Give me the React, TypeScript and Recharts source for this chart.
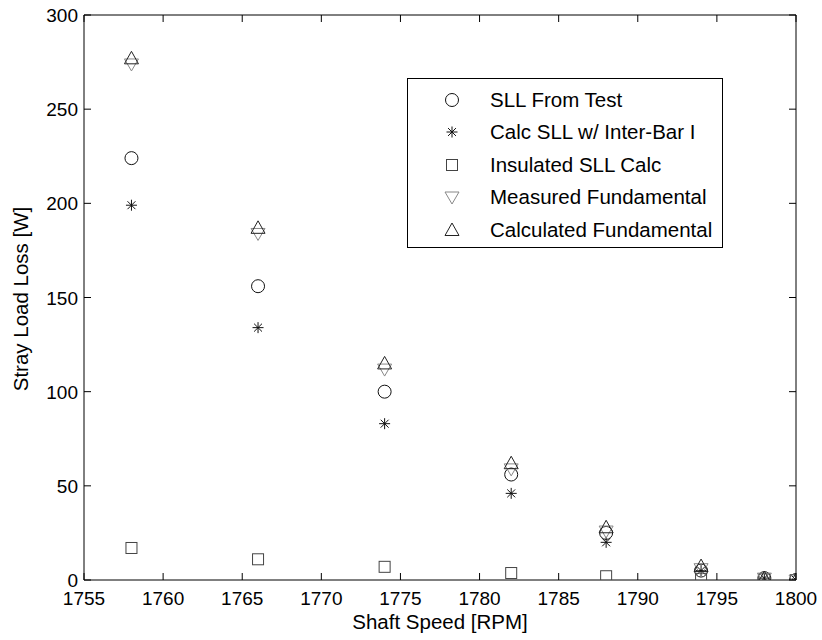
import React from 'react';
import { ScatterChart, Scatter, XAxis, YAxis } from 'recharts';

const speeds = [1758, 1766, 1774, 1782, 1788, 1794, 1798, 1800];
const sllFromTest = [224, 156, 100, 56, 25, 5, 1, 0];
const calcInterBar = [199, 134, 83, 46, 20, 5, 1, 0];
const insulatedCalc = [17, 11, 7, 3.7, 2, 0.6, 0.4, 0];
const measuredFund = [274, 184, 112, 59, 26, 6, 1, 0];
const calculatedFund = [277, 187, 115, 62, 28, 7.4, 1, 0];

const xTicks = [1755, 1760, 1765, 1770, 1775, 1780, 1785, 1790, 1795, 1800];
const yTicks = [0, 50, 100, 150, 200, 250, 300];

const seriesNames = [
  'SLL From Test',
  'Calc SLL w/ Inter-Bar I',
  'Insulated SLL Calc',
  'Measured Fundamental',
  'Calculated Fundamental',
];

const FONT = '"Liberation Sans", Arial, Helvetica, sans-serif';
const FS = 19;
const FS_LABEL = 20.5;

const toPoints = (vals: number[]) => speeds.map((s, i) => ({ x: s, y: vals[i] }));

const CircleMark = ({ cx, cy }: any) => (
  <circle cx={cx} cy={cy} r={6.5} fill="none" stroke="#111" strokeWidth={1} />
);
const StarMark = ({ cx, cy }: any) => {
  const r = 5.5;
  const d = r * 0.72;
  return (
    <g stroke="#111" strokeWidth={1}>
      <line x1={cx - r} y1={cy} x2={cx + r} y2={cy} />
      <line x1={cx} y1={cy - r} x2={cx} y2={cy + r} />
      <line x1={cx - d} y1={cy - d} x2={cx + d} y2={cy + d} />
      <line x1={cx - d} y1={cy + d} x2={cx + d} y2={cy - d} />
    </g>
  );
};
const SquareMark = ({ cx, cy }: any) => (
  <rect x={cx - 5.5} y={cy - 5.5} width={11} height={11} fill="none" stroke="#444" strokeWidth={1} />
);
const DownTriMark = ({ cx, cy }: any) => (
  <polygon
    points={`${cx - 7},${cy - 5} ${cx + 7},${cy - 5} ${cx},${cy + 7}`}
    fill="none"
    stroke="#888"
    strokeWidth={1}
  />
);
const UpTriMark = ({ cx, cy }: any) => (
  <polygon
    points={`${cx - 7},${cy + 5.5} ${cx + 7},${cy + 5.5} ${cx},${cy - 7}`}
    fill="none"
    stroke="#222"
    strokeWidth={1}
  />
);

const markers = [CircleMark, StarMark, SquareMark, DownTriMark, UpTriMark];

const BottomTick = ({ x, y, payload }: any) => (
  <g>
    <line x1={x} y1={y} x2={x} y2={y - 7} stroke="#000" strokeWidth={1} />
    <text x={x} y={y + 25} textAnchor="middle" fontSize={FS} fontFamily={FONT} fill="#000">
      {payload.value}
    </text>
  </g>
);
const TopTick = ({ x, y }: any) => (
  <line x1={x} y1={y} x2={x} y2={y + 7} stroke="#000" strokeWidth={1} />
);
const LeftTick = ({ x, y, payload }: any) => (
  <g>
    <line x1={x} y1={y} x2={x + 7} y2={y} stroke="#000" strokeWidth={1} />
    <text x={x - 6} y={y + 7} textAnchor="end" fontSize={FS} fontFamily={FONT} fill="#000">
      {payload.value}
    </text>
  </g>
);
const RightTick = ({ x, y }: any) => (
  <line x1={x} y1={y} x2={x - 7} y2={y} stroke="#000" strokeWidth={1} />
);

const rowYs = [100, 132, 165, 197, 230];

export default function App() {
  const datasets = [sllFromTest, calcInterBar, insulatedCalc, measuredFund, calculatedFund];
  return (
    <div style={{ position: 'absolute', left: 0, top: 0, width: 822, height: 640, background: '#fff' }}>
      <ScatterChart width={822} height={640} margin={{ top: 10, right: 16, bottom: 30, left: 0 }}>
        <XAxis
          xAxisId="b"
          dataKey="x"
          type="number"
          orientation="bottom"
          domain={[1755, 1800]}
          ticks={xTicks}
          allowDataOverflow
          height={30}
          tickSize={0}
          tickMargin={0}
          tickLine={false}
          axisLine={{ stroke: '#000', strokeWidth: 1 }}
          tick={<BottomTick />}
          interval={0}
        />
        <XAxis
          xAxisId="t"
          dataKey="x"
          type="number"
          orientation="top"
          domain={[1755, 1800]}
          ticks={xTicks}
          allowDataOverflow
          height={5}
          tickSize={0}
          tickMargin={0}
          tickLine={false}
          axisLine={{ stroke: '#000', strokeWidth: 1 }}
          tick={<TopTick />}
          interval={0}
        />
        <YAxis
          yAxisId="l"
          dataKey="y"
          type="number"
          orientation="left"
          domain={[0, 300]}
          ticks={yTicks}
          allowDataOverflow
          width={84}
          tickSize={0}
          tickMargin={0}
          tickLine={false}
          axisLine={{ stroke: '#000', strokeWidth: 1 }}
          tick={<LeftTick />}
          interval={0}
        />
        <YAxis
          yAxisId="r"
          dataKey="y"
          type="number"
          orientation="right"
          domain={[0, 300]}
          ticks={yTicks}
          allowDataOverflow
          width={10}
          tickSize={0}
          tickMargin={0}
          tickLine={false}
          axisLine={{ stroke: '#000', strokeWidth: 1 }}
          tick={<RightTick />}
          interval={0}
        />
        {datasets.map((vals, i) => (
          <Scatter
            key={seriesNames[i]}
            name={seriesNames[i]}
            xAxisId="b"
            yAxisId="l"
            data={toPoints(vals)}
            shape={markers[i]}
            isAnimationActive={false}
          />
        ))}
      </ScatterChart>
      <svg
        width={822}
        height={640}
        style={{ position: 'absolute', left: 0, top: 0, pointerEvents: 'none' }}
      >
        <text
          x={0}
          y={0}
          transform="translate(28,299) rotate(-90)"
          textAnchor="middle"
          fontSize={FS_LABEL}
          fontFamily={FONT}
          fill="#000"
        >
          Stray Load Loss [W]
        </text>
        <text x={440} y={629} textAnchor="middle" fontSize={FS_LABEL} fontFamily={FONT} fill="#000">
          Shaft Speed [RPM]
        </text>
        <rect x={407.5} y={78.5} width={315} height={169} fill="#fff" stroke="#000" strokeWidth={1} />
        {seriesNames.map((name, i) => {
          const M = markers[i];
          return (
            <g key={name}>
              <M cx={452} cy={rowYs[i]} />
              <text x={490} y={rowYs[i] + 7} fontSize={FS_LABEL} fontFamily={FONT} fill="#000">
                {name}
              </text>
            </g>
          );
        })}
      </svg>
    </div>
  );
}
